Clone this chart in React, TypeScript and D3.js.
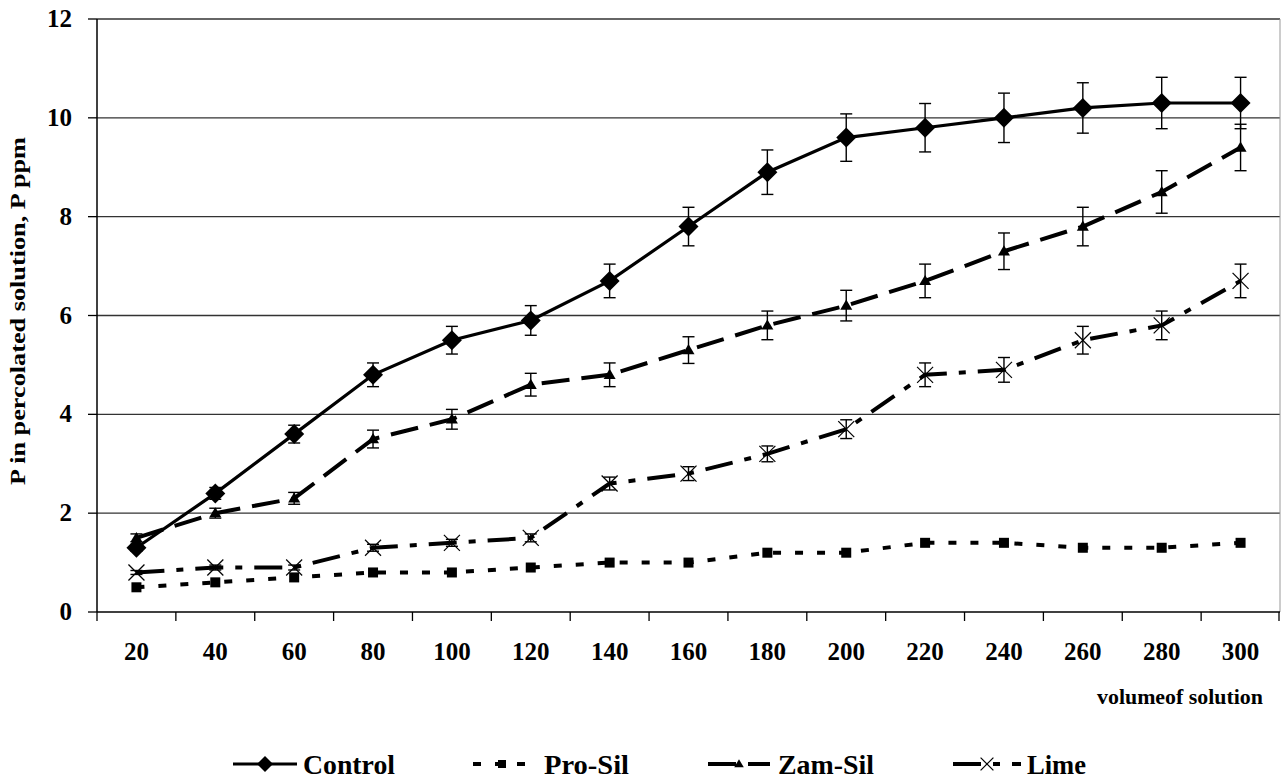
import React from "react";
import * as d3 from "d3";

const categories = [20, 40, 60, 80, 100, 120, 140, 160, 180, 200, 220, 240, 260, 280, 300];
const controlValues = [1.3, 2.4, 3.6, 4.8, 5.5, 5.9, 6.7, 7.8, 8.9, 9.6, 9.8, 10.0, 10.2, 10.3, 10.3];
const proSilValues = [0.5, 0.6, 0.7, 0.8, 0.8, 0.9, 1.0, 1.0, 1.2, 1.2, 1.4, 1.4, 1.3, 1.3, 1.4];
const zamSilValues = [1.5, 2.0, 2.3, 3.5, 3.9, 4.6, 4.8, 5.3, 5.8, 6.2, 6.7, 7.3, 7.8, 8.5, 9.4];
const limeValues = [0.8, 0.9, 0.9, 1.3, 1.4, 1.5, 2.6, 2.8, 3.2, 3.7, 4.8, 4.9, 5.5, 5.8, 6.7];
const controlErr = [0.07, 0.12, 0.18, 0.24, 0.28, 0.3, 0.34, 0.39, 0.45, 0.48, 0.49, 0.5, 0.51, 0.52, 0.52];
const zamSilErr = [0.08, 0.1, 0.12, 0.18, 0.2, 0.23, 0.24, 0.27, 0.29, 0.31, 0.34, 0.37, 0.39, 0.43, 0.47];
const limeErr = [0.04, 0.05, 0.05, 0.07, 0.07, 0.08, 0.13, 0.14, 0.16, 0.19, 0.24, 0.25, 0.28, 0.29, 0.34];
const yTicks = [0, 2, 4, 6, 8, 10, 12];
const seriesNames = ["Control", "Pro-Sil", "Zam-Sil", "Lime"];

const W = 1284;
const H = 780;
const left = 97;
const right = 1280;
const top = 19;
const bottom = 612;
const FONT = "Liberation Serif";

const x = d3.scaleBand<number>().domain(categories).range([left, right]).padding(0);
const y = d3.scaleLinear().domain([0, 12]).range([bottom, top]);
const cx = (c: number) => (x(c) as number) + x.bandwidth() / 2;

type Series = { name: string; values: number[]; err: number[] | null; dash: string; marker: string; width: number };
const series: Series[] = [
  { name: seriesNames[0], values: controlValues, err: controlErr, dash: "none", marker: "diamond", width: 3.2 },
  { name: seriesNames[1], values: proSilValues, err: null, dash: "8,14", marker: "square", width: 4 },
  { name: seriesNames[2], values: zamSilValues, err: zamSilErr, dash: "28,12", marker: "triangle", width: 4 },
  { name: seriesNames[3], values: limeValues, err: limeErr, dash: "28,12,7,12", marker: "x", width: 4 },
];

function Marker({ type, px, py, scale = 1 }: { type: string; px: number; py: number; scale?: number }) {
  if (type === "diamond") {
    const s = 10 * scale;
    return <path d={`M${px},${py - s}L${px + s},${py}L${px},${py + s}L${px - s},${py}Z`} fill="#000" />;
  }
  if (type === "square") {
    const s = 5 * scale;
    return <rect x={px - s} y={py - s} width={2 * s} height={2 * s} fill="#000" />;
  }
  if (type === "triangle") {
    const s = 6 * scale;
    return <path d={`M${px},${py - s}L${px + s},${py + s * 0.7}L${px - s},${py + s * 0.7}Z`} fill="#000" />;
  }
  const s = 8 * scale;
  return (
    <g stroke="#000" strokeWidth={1.2}>
      <line x1={px - s} y1={py - s} x2={px + s} y2={py + s} />
      <line x1={px - s} y1={py + s} x2={px + s} y2={py - s} />
    </g>
  );
}

export default function App() {
  const line = d3
    .line<number>()
    .x((_, i) => cx(categories[i]))
    .y((v) => y(v));

  const legendX = [233, 473, 708, 953];
  const legendLineW = [64, 58, 62, 68];
  const legendTextX = [303, 544, 778, 1027];
  const legendTextW = [92, 85, 96, 59];
  const legendY = 764;

  return (
    <svg width={W} height={H} style={{ position: "absolute", left: 0, top: 0, background: "#fff" }}>
      <rect x={0} y={0} width={W} height={H} fill="#fff" />
      {yTicks.filter((t) => t > 0).map((t) => (
        <line key={t} x1={left} x2={right} y1={y(t)} y2={y(t)} stroke="#333" strokeWidth={1.3} />
      ))}
      <line x1={right} x2={right} y1={top} y2={bottom} stroke="#999" strokeWidth={1} />
      <line x1={left} x2={left} y1={top} y2={bottom} stroke="#000" strokeWidth={1.5} />
      <line x1={left} x2={right} y1={bottom} y2={bottom} stroke="#000" strokeWidth={1.5} />
      {yTicks.map((t) => (
        <g key={t}>
          <line x1={left - 9} x2={left} y1={y(t)} y2={y(t)} stroke="#000" strokeWidth={1.3} />
          <text x={72} y={y(t) + 8} textAnchor="end" fontFamily={FONT} fontWeight="bold" fontSize={25} fill="#000">
            {t}
          </text>
        </g>
      ))}
      {categories.map((c) => (
        <line key={"t" + c} x1={x(c) as number} x2={x(c) as number} y1={bottom} y2={bottom + 9} stroke="#000" strokeWidth={1.3} />
      ))}
      <line x1={right - 1} x2={right - 1} y1={bottom} y2={bottom + 9} stroke="#000" strokeWidth={1.3} />
      {categories.map((c) => (
        <text key={"l" + c} x={cx(c)} y={660} textAnchor="middle" fontFamily={FONT} fontWeight="bold" fontSize={25} fill="#000">
          {c}
        </text>
      ))}
      <text x={1097} y={704} textLength={166} lengthAdjust="spacingAndGlyphs" fontFamily={FONT} fontWeight="bold" fontSize={22} fill="#000">
        volumeof solution
      </text>
      <text
        transform={`translate(25,485) rotate(-90)`}
        textLength={348}
        lengthAdjust="spacingAndGlyphs"
        fontFamily={FONT}
        fontWeight="bold"
        fontSize={21}
        fill="#000"
      >
        P in percolated solution, P ppm
      </text>
      {series.map((s) =>
        s.err
          ? s.values.map((v, i) => {
              const px = cx(categories[i]);
              const e = (s.err as number[])[i];
              return (
                <g key={s.name + "e" + i} stroke="#000" strokeWidth={1.4}>
                  <line x1={px} x2={px} y1={y(v + e)} y2={y(v - e)} />
                  <line x1={px - 6} x2={px + 6} y1={y(v + e)} y2={y(v + e)} />
                  <line x1={px - 6} x2={px + 6} y1={y(v - e)} y2={y(v - e)} />
                </g>
              );
            })
          : null
      )}
      {series.map((s) => (
        <path key={s.name} d={line(s.values) as string} fill="none" stroke="#000" strokeWidth={s.width} strokeDasharray={s.dash} />
      ))}
      {series.map((s) =>
        s.values.map((v, i) => <Marker key={s.name + "m" + i} type={s.marker} px={cx(categories[i])} py={y(v)} />)
      )}
      {series.map((s, k) => (
        <g key={"lg" + s.name}>
          <line
            x1={legendX[k]}
            x2={legendX[k] + legendLineW[k]}
            y1={legendY}
            y2={legendY}
            stroke="#000"
            strokeWidth={s.width}
            strokeDasharray={s.dash}
          />
          <Marker type={s.marker} px={legendX[k] + legendLineW[k] / 2} py={legendY} scale={0.8} />
          <text
            x={legendTextX[k]}
            y={legendY + 10}
            textLength={legendTextW[k]}
            lengthAdjust="spacingAndGlyphs"
            fontFamily={FONT}
            fontWeight="bold"
            fontSize={28}
            fill="#000"
          >
            {s.name}
          </text>
        </g>
      ))}
    </svg>
  );
}
